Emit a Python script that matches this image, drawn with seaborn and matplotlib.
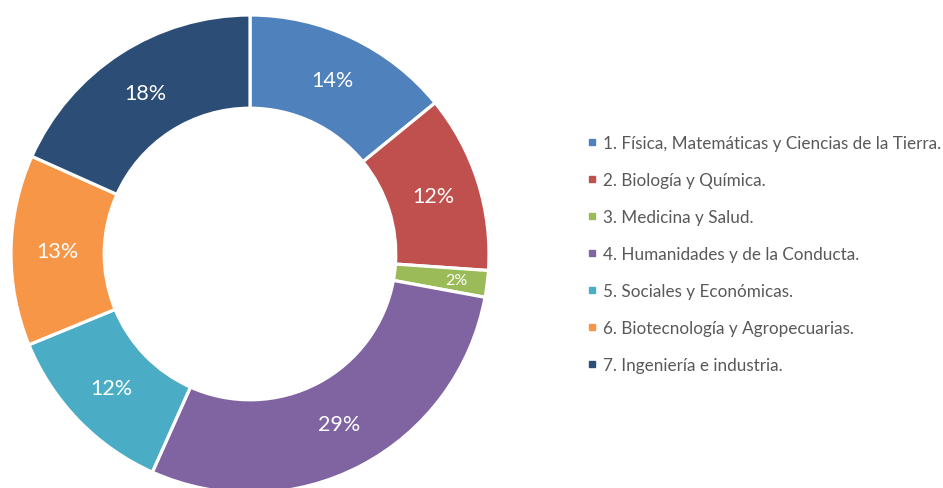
import numpy as np
import seaborn as sns
import matplotlib.pyplot as plt
from matplotlib.lines import Line2D

areas = ["1. Física, Matemáticas y Ciencias de la Tierra.",
         "2. Biología y Química.",
         "3. Medicina y Salud.",
         "4. Humanidades y de la Conducta.",
         "5. Sociales y Económicas.",
         "6. Biotecnología y Agropecuarias.",
         "7. Ingeniería e industria."]
shares = [14.1, 12.0, 1.8, 28.8, 12.1, 12.9, 18.3]
colors = ["#4F81BD", "#C0504D", "#9BBB59", "#8064A2", "#4BACC6", "#F79646", "#2C4D76"]

sns.set_theme(style="white")
plt.rcParams['font.family'] = ['Lato', 'DejaVu Sans']
palette = sns.color_palette(colors)

fig = plt.figure(figsize=(9.43, 4.89), dpi=100)
ax = fig.add_axes([11 / 943, -5 / 489, 478 / 943, 478 / 489])

wedges, texts = ax.pie(shares, colors=palette, startangle=90, counterclock=False,
                       radius=1.0, wedgeprops=dict(width=0.39, edgecolor="white", linewidth=2.3))
ax.set_xlim(-1, 1)
ax.set_ylim(-1, 1)
ax.set_aspect("equal")
ax.axis("off")

# percentage labels in the middle of the ring
total = sum(shares)
for w, v in zip(wedges, shares):
    mid = np.deg2rad((w.theta1 + w.theta2) / 2)
    small = v < 5
    r = 0.87 if small else 0.805
    ax.text(r * np.cos(mid), r * np.sin(mid), f"{v / total * 100:.0f}%",
            ha="center", va="center", color="white",
            fontsize=11.5 if small else 15.5)

handles = [Line2D([0], [0], marker="s", linestyle="", markersize=5,
                  markerfacecolor=c, markeredgecolor=c) for c in palette]
leg = fig.legend(handles, areas, loc="upper left", bbox_to_anchor=(580 / 943, 1 - 129 / 489),
                 frameon=False, fontsize=12.3, labelspacing=1.23, handlelength=0.6,
                 handletextpad=0.35, borderaxespad=0)
for t in leg.get_texts():
    t.set_color("#595959")

plt.savefig("out.png", dpi=100)
